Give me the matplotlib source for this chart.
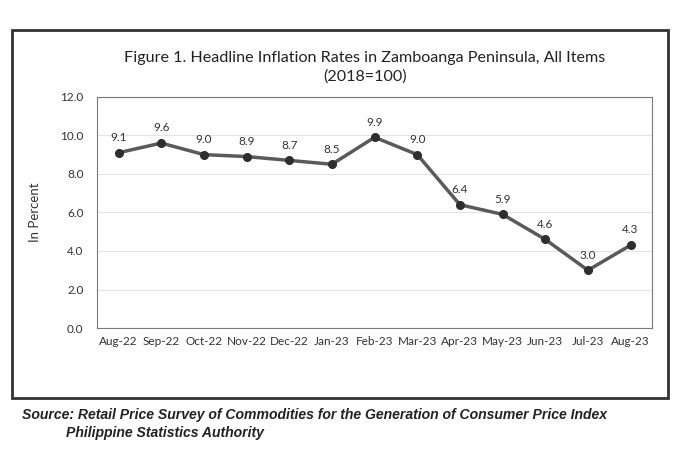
import matplotlib
matplotlib.use("Agg")
import matplotlib.pyplot as plt
from matplotlib.patches import Rectangle

months = ["Aug-22", "Sep-22", "Oct-22", "Nov-22", "Dec-22", "Jan-23", "Feb-23",
          "Mar-23", "Apr-23", "May-23", "Jun-23", "Jul-23", "Aug-23"]
inflation = [9.1, 9.6, 9.0, 8.9, 8.7, 8.5, 9.9, 9.0, 6.4, 5.9, 4.6, 3.0, 4.3]
yticks = [0.0, 2.0, 4.0, 6.0, 8.0, 10.0, 12.0]

plt.rcParams['font.family'] = ['Lato', 'DejaVu Sans']

fig = plt.figure(figsize=(6.95, 4.70), dpi=100)
fig.patch.set_facecolor('white')

# outer frame
fig.add_artist(Rectangle((0.017, 0.153), 0.944, 0.783, transform=fig.transFigure,
                         fill=False, edgecolor='#333333', linewidth=2))

ax = fig.add_axes([0.14, 0.302, 0.798, 0.492])
x = list(range(len(months)))
ax.plot(x, inflation, color='#5a5a5a', linewidth=2.5, marker='o',
        markersize=5.5, markerfacecolor='#2e2e2e', markeredgecolor='#2e2e2e', zorder=3)
for xi, v in zip(x, inflation):
    ax.annotate(f"{v:.1f}", (xi, v), xytext=(0, 7), textcoords='offset points',
                ha='center', va='bottom', fontsize=8.5, color='#333333')

ax.set_xlim(-0.5, len(months) - 0.5)
ax.set_ylim(0, 12)
ax.set_yticks(yticks)
ax.set_yticklabels([f"{t:.1f}" for t in yticks], fontsize=8.5, color='#333333')
ax.set_xticks(x)
ax.set_xticklabels(months, fontsize=8.5, color='#333333')
ax.tick_params(axis='y', length=0, pad=10)
ax.tick_params(axis='x', length=0, pad=6)
ax.grid(axis='y', color='#e3e3e3', linewidth=0.8)
ax.set_axisbelow(True)
for s in ax.spines.values():
    s.set_color('#7a7a7a')
    s.set_linewidth(0.8)
ax.set_ylabel("In Percent", fontsize=9.5, color='#333333', labelpad=14)

fig.text(0.525, 0.877, "Figure 1. Headline Inflation Rates in Zamboanga Peninsula, All Items",
         ha='center', va='center', fontsize=11.6, color='#222222')
fig.text(0.525, 0.838, "(2018=100)", ha='center', va='center', fontsize=11.6, color='#222222')

fig.text(0.032, 0.117, "Source: Retail Price Survey of Commodities for the Generation of Consumer Price Index",
         ha='left', va='center', fontsize=10.1, fontweight='bold', fontstyle='italic',
         family=['Liberation Sans', 'DejaVu Sans'], color='#222222')
fig.text(0.095, 0.079, "Philippine Statistics Authority",
         ha='left', va='center', fontsize=10.1, fontweight='bold', fontstyle='italic',
         family=['Liberation Sans', 'DejaVu Sans'], color='#222222')

fig.savefig("out.png", dpi=100)
